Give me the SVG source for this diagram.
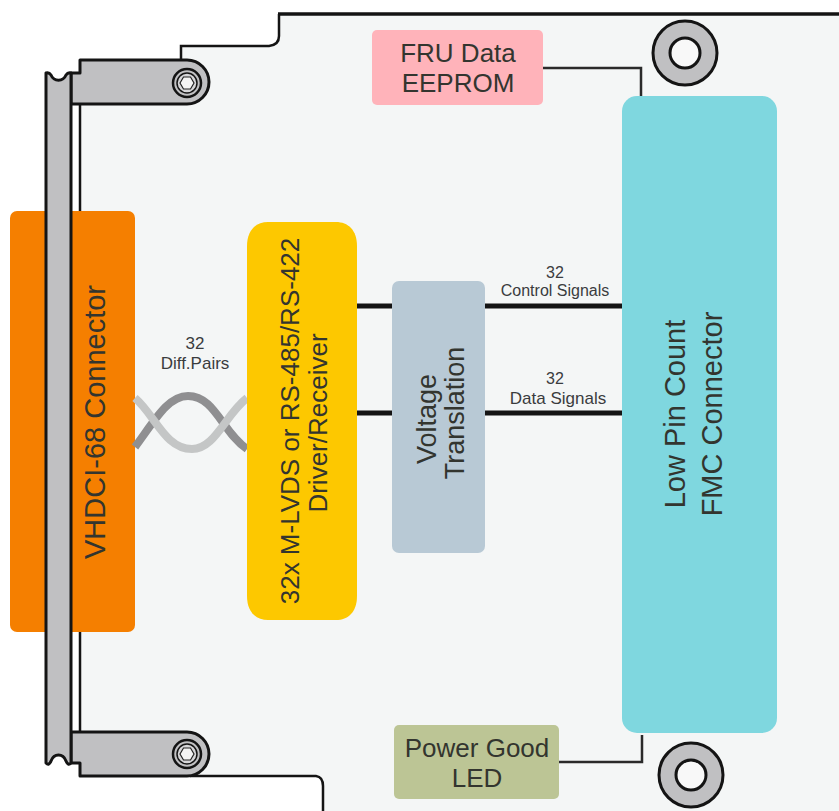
<svg xmlns="http://www.w3.org/2000/svg" width="839" height="811" viewBox="0 0 839 811">
<style>
text{font-family:"Liberation Sans",Arial,sans-serif;text-anchor:middle;fill:#33352f}
.mid{font-size:26px}.large{font-size:29px}.small{font-size:16px;fill:#3a3c3e}.small2{font-size:17px;fill:#3a3c3e}
.metal{fill:#c0c0c2;stroke:#141414;stroke-width:3;stroke-linejoin:round}
.thick{fill:none;stroke:#141414;stroke-width:5}
.thin{fill:none;stroke:#2a2a2a;stroke-width:2.5}
.edge{fill:none;stroke:#141414;stroke-width:2.5}
</style>
<rect width="839" height="811" fill="#fff"/>
<path id="board" d="M279 14H839V811H323V786Q323 777 316 776H80V104H181V46H268Q279 44 279 36Z" fill="#f4f6f6"/>
<g id="board-outline">
<path d="M278 14H839" fill="none" stroke="#141414" stroke-width="3.500"/>
<path class="edge" d="M279 14V36Q279 45 269 46H181V60"/>
<path class="edge" d="M80 104V211M80 632V732"/>
<path class="edge" d="M190 776H316Q323 777 323 786V811"/>
</g>
<g id="vhdci-body"><rect x="10" y="211" width="125" height="421" rx="7" fill="#f57f00"/></g>
<g id="front-panel">
<path class="metal" d="M71 73H80V60H187A22 22 0 0 1 187 104H71Z"/>
<path class="metal" d="M71 763H80V776H187A22 22 0 0 0 187 732H71Z"/>
<path class="metal" d="M46 73Q49 72 51 75C54 82 63 82 66 75Q68 72 71 73V763Q68 766 66 761C63 753 54 753 51 761Q49 766 46 763Z"/>
<circle cx="187" cy="83" r="14" fill="none" stroke="#141414" stroke-width="2.500"/>
<circle cx="187" cy="83" r="10" fill="#d6d6d8" stroke="#141414" stroke-width="1.500"/>
<path d="M180 83L183.500 77H190.500L194 83L190.500 89H183.500Z" fill="#f4f4f4" stroke="#222" stroke-width="1.200"/>
<circle cx="187" cy="754" r="14" fill="none" stroke="#141414" stroke-width="2.500"/>
<circle cx="187" cy="754" r="10" fill="#d6d6d8" stroke="#141414" stroke-width="1.500"/>
<path d="M180 754L183.500 748H190.500L194 754L190.500 760H183.500Z" fill="#f4f4f4" stroke="#222" stroke-width="1.200"/>
</g>
<g id="mount-holes">
<circle cx="685" cy="53" r="32" class="metal"/><circle cx="685" cy="53" r="15" fill="#f8f8f8" stroke="#141414" stroke-width="3"/>
<circle cx="691" cy="775" r="32" class="metal"/><circle cx="691" cy="775" r="15" fill="#f8f8f8" stroke="#141414" stroke-width="3"/>
</g>
<g id="connectors">
<path d="M135 447C155 420 168 396 188 396C215 396 222 432 247 449" fill="none" stroke="#8f8f91" stroke-width="8"/>
<path d="M135 398C155 415 165 449 192 449C215 449 225 415 247 398" fill="none" stroke="#c4c6c6" stroke-width="8"/>
<path class="thick" d="M357 306H392M485 306H622M357 413H392M485 413H622"/>
<path class="thin" d="M543 68H641V96M559 762H642V735"/>
</g>
<g id="vhdci-label"><text font-size="29" transform="translate(105 422) rotate(-90)">VHDCI-68 Connector</text></g>
<g id="driver">
<path d="M268 222H336C348 222 357 230 357 246V596C357 612 348 620 336 620H268C256 620 247 612 247 596V246C247 230 256 222 268 222Z" fill="#fdc800"/>
<text class="mid" transform="rotate(-90 299 421)" x="299" y="421">32x M-LVDS or RS-485/RS-422</text>
<text class="mid" transform="rotate(-90 327 423)" x="327" y="423">Driver/Receiver</text>
</g>
<g id="voltage-translation">
<rect x="392" y="281" width="93" height="272" rx="7" fill="#b8c9d5"/>
<text font-size="27" transform="rotate(-90 436 419)" x="436" y="419">Voltage</text>
<text font-size="27" transform="rotate(-90 464 413)" x="464" y="413">Translation</text>
</g>
<g id="fmc">
<rect x="622" y="96" width="155" height="637" rx="15" fill="#7fd7df"/>
<text class="large" transform="rotate(-90 685 414)" x="685" y="414">Low Pin Count</text>
<text class="large" transform="rotate(-90 722 414)" x="722" y="414">FMC Connector</text>
</g>
<g id="fru">
<rect x="372" y="30" width="171" height="75" rx="5" fill="#ffb3ba"/>
<text class="mid" x="458" y="62">FRU Data</text>
<text class="mid" x="458" y="92">EEPROM</text>
</g>
<g id="led">
<rect x="394" y="725" width="165" height="74" rx="5" fill="#bcc595"/>
<text class="mid" x="477" y="757">Power Good</text>
<text class="mid" x="477" y="787">LED</text>
</g>
<g id="labels">
<text class="small2" x="195" y="349">32</text>
<text class="small2" x="195" y="369">Diff.Pairs</text>
<text class="small" x="555" y="278">32</text>
<text class="small" x="555" y="296">Control Signals</text>
<text class="small" x="555" y="384">32</text>
<text class="small2" x="558" y="404">Data Signals</text>
</g>
</svg>
